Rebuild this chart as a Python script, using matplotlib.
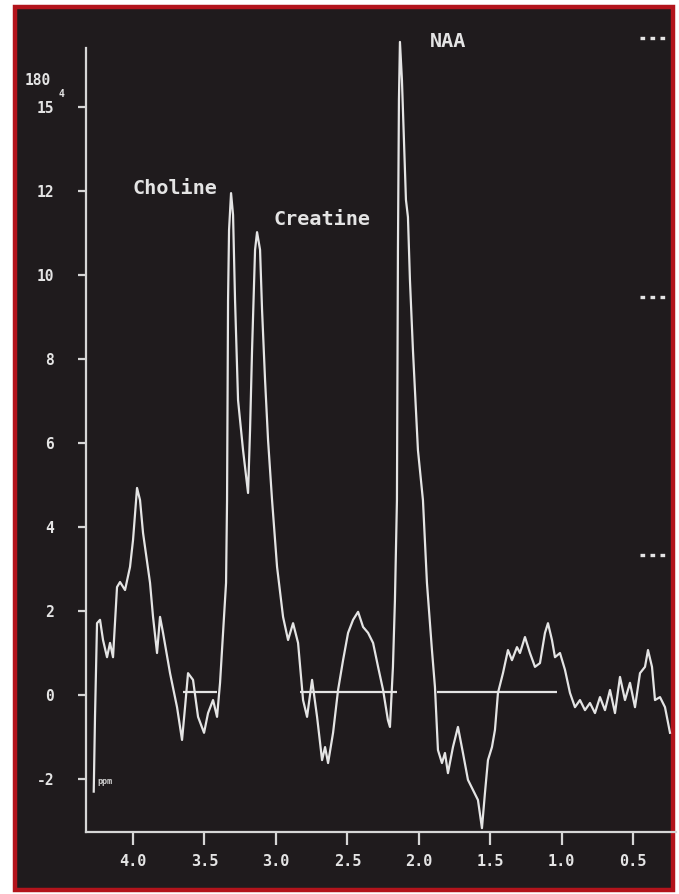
import matplotlib
matplotlib.use('Agg')
import matplotlib.pyplot as plt
from matplotlib.patches import Rectangle

# spectrum trace (chemical shift in ppm, amplitude)
ppm = [4.275, 4.266, 4.252, 4.231, 4.210, 4.182, 4.161, 4.140, 4.112, 4.091,
       4.056, 4.021, 4.000, 3.972, 3.951, 3.930, 3.881, 3.860, 3.832, 3.811,
       3.790, 3.741, 3.692, 3.657, 3.636, 3.615, 3.580, 3.545, 3.503, 3.475,
       3.440, 3.412, 3.391, 3.370, 3.349, 3.342, 3.335, 3.328, 3.314, 3.300,
       3.286, 3.265, 3.230, 3.195, 3.181, 3.167, 3.146, 3.132, 3.111, 3.097,
       3.076, 3.055, 3.027, 2.992, 2.950, 2.915, 2.880, 2.845, 2.810, 2.782,
       2.747, 2.712, 2.677, 2.656, 2.635, 2.600, 2.565, 2.530, 2.495, 2.460,
       2.425, 2.390, 2.355, 2.320, 2.285, 2.250, 2.216, 2.202, 2.181, 2.167,
       2.153, 2.146, 2.139, 2.132, 2.118, 2.104, 2.090, 2.076, 2.062, 2.041,
       2.006, 1.971, 1.943, 1.908, 1.887, 1.866, 1.838, 1.817, 1.796, 1.761,
       1.726, 1.691, 1.656, 1.621, 1.586, 1.558, 1.537, 1.516, 1.488, 1.467,
       1.446, 1.411, 1.376, 1.348, 1.313, 1.292, 1.257, 1.222, 1.187, 1.152,
       1.117, 1.096, 1.068, 1.047, 1.012, 0.977, 0.942, 0.907, 0.872, 0.837,
       0.802, 0.767, 0.732, 0.697, 0.662, 0.627, 0.592, 0.557, 0.522, 0.487,
       0.452, 0.417, 0.396, 0.368, 0.347, 0.312, 0.277, 0.242]
signal = [-2.30, -0.50, 1.71, 1.79, 1.31, 0.90, 1.24, 0.90, 2.57, 2.69,
          2.50, 3.05, 3.69, 4.93, 4.64, 3.86, 2.67, 1.86, 1.00, 1.86,
          1.48, 0.52, -0.29, -1.07, -0.29, 0.52, 0.36, -0.52, -0.90, -0.43,
          -0.12, -0.52, 0.29, 1.48, 2.67, 4.64, 9.40, 11.07, 11.95, 11.43,
          9.40, 7.02, 5.83, 4.81, 6.31, 8.21, 10.60, 11.02, 10.60, 9.17,
          7.50, 6.07, 4.64, 3.05, 1.86, 1.31, 1.71, 1.24, -0.12, -0.52,
          0.36, -0.52, -1.55, -1.24, -1.62, -0.90, 0.12, 0.83, 1.48, 1.79,
          1.98, 1.62, 1.48, 1.24, 0.67, 0.12, -0.60, -0.76, 0.67, 2.26,
          4.64, 10.60, 14.17, 15.55, 14.64, 13.21, 11.79, 11.38, 9.88, 8.21,
          5.83, 4.64, 2.67, 1.07, 0.19, -1.31, -1.62, -1.38, -1.86, -1.24,
          -0.76, -1.38, -2.02, -2.26, -2.50, -3.17, -2.33, -1.55, -1.24, -0.83,
          0.05, 0.52, 1.07, 0.83, 1.14, 1.00, 1.38, 1.00, 0.67, 0.76,
          1.48, 1.71, 1.31, 0.90, 1.00, 0.60, 0.05, -0.29, -0.12, -0.36,
          -0.19, -0.43, -0.05, -0.36, 0.12, -0.43, 0.43, -0.12, 0.29, -0.29,
          0.52, 0.67, 1.07, 0.67, -0.12, -0.05, -0.29, -0.90]

# fitted baseline segments (start ppm, end ppm)
baseline_start = [3.651, 2.831, 1.873]
baseline_end = [3.412, 2.153, 1.033]
baseline_level = 0.08

peak_names = ['Choline', 'Creatine', 'NAA']
peak_ppm = [4.007, 3.020, 1.922]
peak_amp = [12.07, 11.33, 15.57]

x_ticks = [4.0, 3.5, 3.0, 2.5, 2.0, 1.5, 1.0, 0.5]
x_labels = ['4.0', '3.5', '3.0', '2.5', '2.0', '1.5', '1.0', '0.5']
y_ticks = [-2, 0, 2, 4, 6, 8, 10, 12, 14]
y_labels = ['-2', '0', '2', '4', '6', '8', '10', '12', '15']

# little screen marks at the right edge
mark_amp = [15.64, 9.48, 3.33]

W, H = 679, 894
fg = '#e4e4e4'
mono = 'DejaVu Sans Mono'

fig = plt.figure(figsize=(W / 100, H / 100), dpi=100, facecolor='white')
ax = fig.add_axes([0, 0, 1, 1])
ax.patch.set_visible(False)

# screen frame
ax.add_patch(Rectangle((15 / W, 1 - 890 / H), (673 - 15) / W, (890 - 7) / H,
                       transform=ax.transAxes, facecolor='#1f1b1d',
                       edgecolor='#b3141c', linewidth=3.2, zorder=0, clip_on=False))

# pixel -> data mapping of the photo
ax.set_xlim(4.931, 0.179)
ax.set_ylim(-4.738, 16.548)

ax.plot(ppm, signal, color=fg, linewidth=1.6, zorder=3)
ax.hlines([baseline_level] * len(baseline_start), baseline_start, baseline_end,
          color=fg, linewidth=1.6, zorder=3)

for name, px, py in zip(peak_names, peak_ppm, peak_amp):
    ax.text(px, py, name, color=fg, fontsize=14.5, family=mono, fontweight='bold',
            ha='left', va='center', zorder=4)

for m in mark_amp:
    ax.plot([0.452, 0.242], [m, m], color=fg, linewidth=2.4,
            linestyle=(0, (1.4, 1.6)), zorder=3)

# axes drawn like the scope display
axis_x = 4.329
axis_y = -3.262
for side in ['top', 'right']:
    ax.spines[side].set_visible(False)
ax.spines['left'].set_position(('data', axis_x))
ax.spines['bottom'].set_position(('data', axis_y))
ax.spines['left'].set_bounds(axis_y, 15.40)
ax.spines['bottom'].set_bounds(axis_x, 0.20)
for side in ['left', 'bottom']:
    ax.spines[side].set_color('#d6d6d6')
    ax.spines[side].set_linewidth(1.6)
    ax.spines[side].set_zorder(3)

ax.set_xticks(x_ticks, x_labels)
ax.set_yticks(y_ticks, y_labels)
ax.tick_params(axis='x', direction='out', length=9, width=1.6, color='#d6d6d6',
               pad=7, labelsize=11, labelcolor=fg)
ax.tick_params(axis='y', direction='out', length=6, width=1.6, color='#d6d6d6',
               pad=17, labelsize=10.5, labelcolor=fg)
for lab in ax.get_xticklabels() + ax.get_yticklabels():
    lab.set_family(mono)
    lab.set_fontweight('bold')

ax.text(4.67, 14.62, '180', color=fg, fontsize=10.5, family=mono, fontweight='bold',
        ha='center', va='center')
ax.text(4.50, 14.30, '4', color=fg, fontsize=7, family=mono, fontweight='bold',
        ha='center', va='center')
ax.text(4.20, -2.05, 'ppm', color='#cfcfcf', fontsize=6, family=mono,
        fontweight='bold', ha='center', va='center')

fig.savefig('out.png', dpi=100, facecolor='white')
